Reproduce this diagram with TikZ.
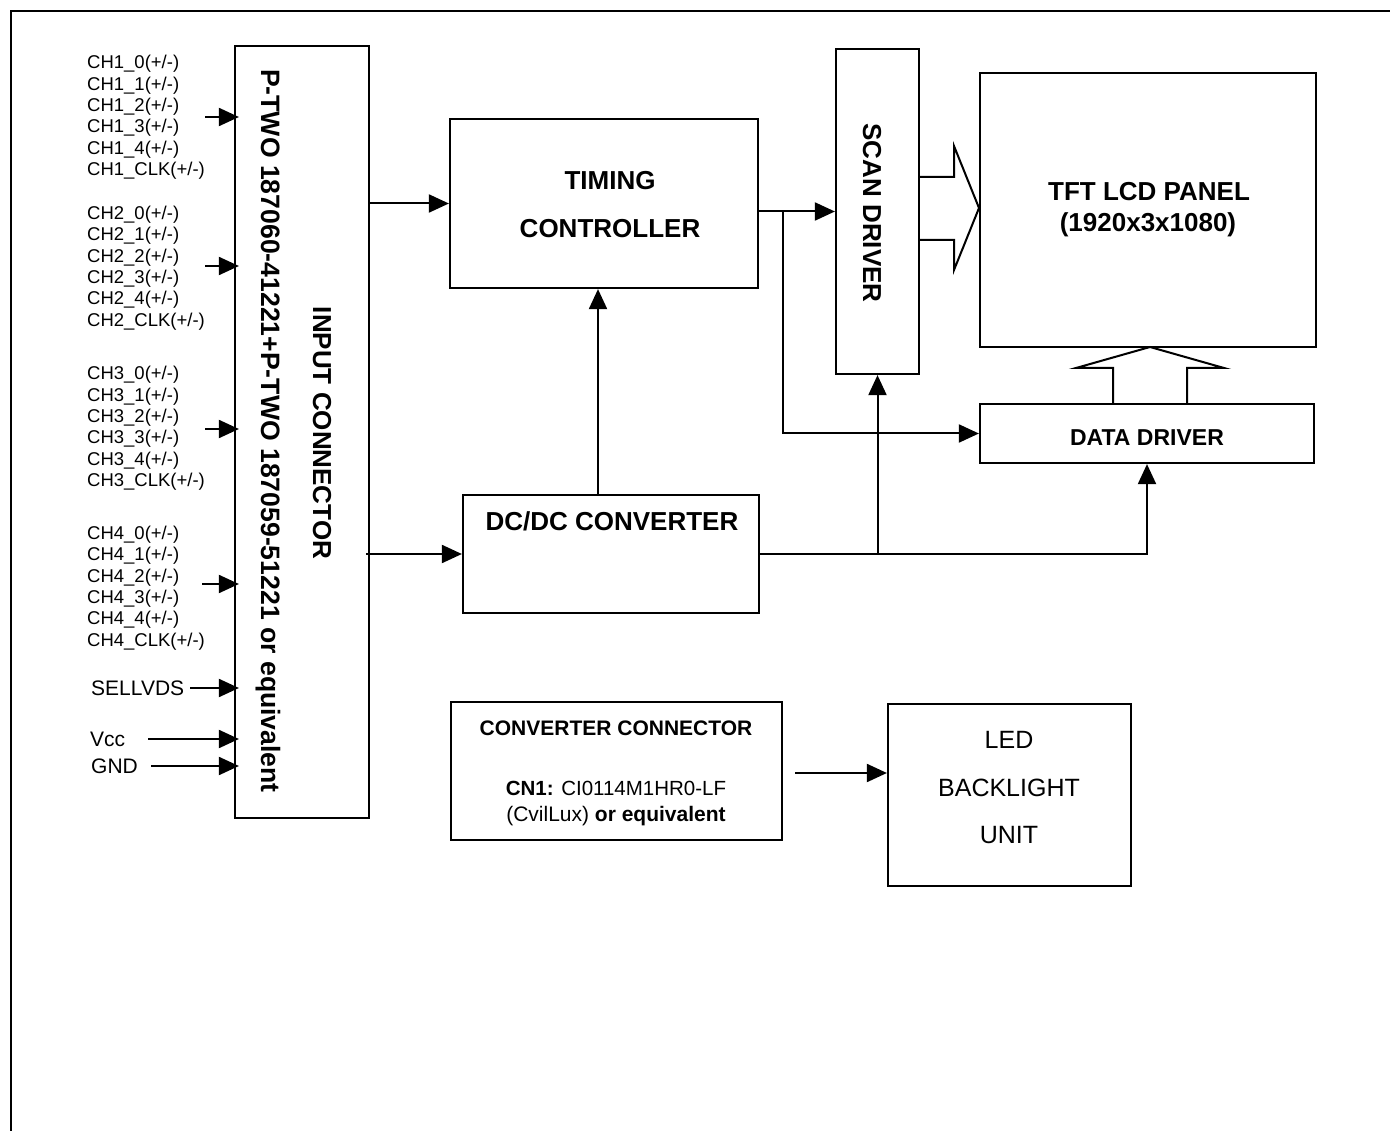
\documentclass[tikz,border=0pt]{standalone}
\usepackage{fontspec}
\setmainfont{Liberation Sans}
\usetikzlibrary{arrows.meta}
\tikzset{
  blk/.style={draw, line width=2.2pt, inner sep=0pt, fill=none},
  arr/.style={line width=2pt, -{Triangle[length=20pt,width=18pt]}},
  plain/.style={line width=2pt},
  lbl/.style={inner sep=0pt, font=\fontsize{18.5}{21.4}\selectfont, align=left, anchor=west},
  siglbl/.style={inner sep=0pt, font=\fontsize{21}{25}\selectfont, anchor=west},
  bigb/.style={inner sep=0pt, font=\fontsize{26}{31}\selectfont\bfseries, align=center},
}
\begin{document}
\begin{tikzpicture}[x=1pt,y=-1pt]
\useasboundingbox (0,0) rectangle (1390,1131);
\fill[white] (0,0) rectangle (1390,1131);
% outer frame
\draw[line width=2pt] (11,1131) -- (11,11) -- (1390,11);

% boxes
\node[blk, minimum width=134, minimum height=772] (inconn) at (302,432) {};
\node[blk, minimum width=308, minimum height=169] (timing) at (604,203.5) {};
\node[blk, minimum width=83, minimum height=325] (scan) at (877.5,211.5) {};
\node[blk, minimum width=336, minimum height=274] (panel) at (1148,210) {};
\node[blk, minimum width=334, minimum height=59] (data) at (1147,433.5) {};
\node[blk, minimum width=296, minimum height=118] (dcdc) at (611,554) {};
\node[blk, minimum width=331, minimum height=138] (cconn) at (616.5,771) {};
\node[blk, minimum width=243, minimum height=182] (led) at (1009.5,795) {};

% box texts
\node[bigb, rotate=-90] (inconnA) at (268,431) {\fontsize{26.6}{31}\selectfont P-TWO 187060-41221+P-TWO 187059-51221 or equivalent};
\node[bigb, rotate=-90] (inconnB) at (322,433) {INPUT CONNECTOR};
\node[bigb] (timingA) at (610,181) {TIMING};
\node[bigb] (timingB) at (610,229) {CONTROLLER};
\node[bigb, rotate=-90] (scanT) at (872,213) {SCAN DRIVER};
\node[bigb] (panelA) at (1149,192) {TFT LCD PANEL};
\node[bigb] (panelB) at (1148,225) {(1920x3x1080)};
\node[inner sep=0pt, font=\fontsize{23}{27}\selectfont\bfseries] (dataT) at (1147,438) {DATA DRIVER};
\node[bigb] (dcdcT) at (612,521) {DC/DC CONVERTER};
\node[inner sep=0pt, font=\fontsize{21}{25}\selectfont\bfseries] (cconnA) at (616,728) {CONVERTER CONNECTOR};
\node[inner sep=0pt, font=\fontsize{20.5}{25}\selectfont] (cconnB) at (616,788) {\textbf{CN1:} CI0114M1HR0-LF};
\node[inner sep=0pt, font=\fontsize{21}{25}\selectfont] (cconnC) at (616,816) {(CvilLux) \textbf{or equivalent}};
\node[inner sep=0pt, font=\fontsize{25}{30}\selectfont] (ledA) at (1009,740) {LED};
\node[inner sep=0pt, font=\fontsize{25}{30}\selectfont] (ledB) at (1009,788) {BACKLIGHT};
\node[inner sep=0pt, font=\fontsize{25}{30}\selectfont] (ledC) at (1009,835) {UNIT};

% left signal labels
\node[lbl] (ch1) at (87,117.5) {CH1\_0(+/-)\\CH1\_1(+/-)\\CH1\_2(+/-)\\CH1\_3(+/-)\\CH1\_4(+/-)\\CH1\_CLK(+/-)};
\node[lbl] (ch2) at (87,268) {CH2\_0(+/-)\\CH2\_1(+/-)\\CH2\_2(+/-)\\CH2\_3(+/-)\\CH2\_4(+/-)\\CH2\_CLK(+/-)};
\node[lbl] (ch3) at (87,428.5) {CH3\_0(+/-)\\CH3\_1(+/-)\\CH3\_2(+/-)\\CH3\_3(+/-)\\CH3\_4(+/-)\\CH3\_CLK(+/-)};
\node[lbl] (ch4) at (87,588) {CH4\_0(+/-)\\CH4\_1(+/-)\\CH4\_2(+/-)\\CH4\_3(+/-)\\CH4\_4(+/-)\\CH4\_CLK(+/-)};
\node[siglbl] (sel) at (91,688) {SELLVDS};
\node[siglbl] (vcc) at (90,739) {Vcc};
\node[siglbl] (gnd) at (91,766) {GND};

% input arrows
\coordinate (i1) at (205,117);
\coordinate (i2) at (205,266);
\coordinate (i3) at (205,429);
\coordinate (i4) at (202,584);
\coordinate (i5) at (190,688);
\coordinate (i6) at (148,739);
\coordinate (i7) at (151,766);
\foreach \c in {i1,i2,i3,i4,i5,i6,i7}{
  \draw[arr] (\c) -- ([xshift=5pt]\c -| inconn.west);
}

% main connectors
\draw[arr] (inconn.east |- timing.west) -- (timing.west);
\draw[arr] ([xshift=-4pt]inconn.east |- dcdc.west) -- (dcdc.west);
\draw[arr] ([xshift=-13pt]dcdc.north) -- ([xshift=-13pt]dcdc.north |- timing.south);
\draw[arr] (timing.east |- scan.west) -- (scan.west);
\coordinate (br) at (783,211.5);
\draw[arr] (br) |- (data.west);
\draw[arr] (dcdc.east) -| (data.south);
\draw[arr] (scan.south |- dcdc.east) -- (scan.south);
\coordinate (cst) at (795,773);
\draw[arr] (cst) -- (cst -| led.west);

% hollow arrows
\draw[plain, line join=miter] (919,177) -- (954,177) -- (954,146) -- (979,208) -- (954,270) -- (954,240) -- (919,240);
\draw[plain, line join=miter] (1113,404) -- (1113,368) -- (1076,368) -- (1150,347) -- (1224,368) -- (1187,368) -- (1187,404);
\end{tikzpicture}
\end{document}
